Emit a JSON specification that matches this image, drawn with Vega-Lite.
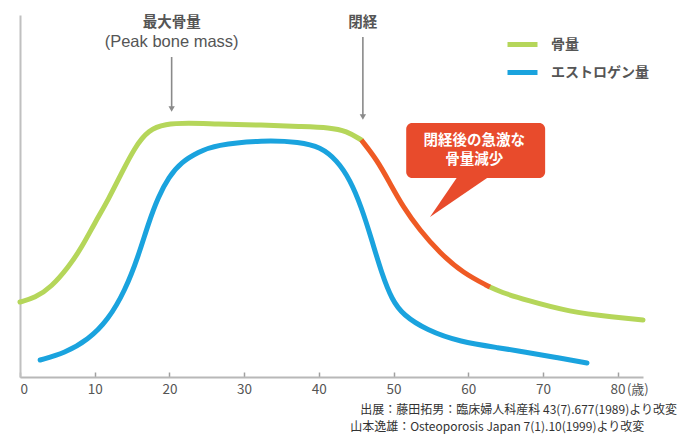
{
  "$schema": "https://vega.github.io/schema/vega-lite/v6.json",
  "width": 623,
  "height": 362,
  "autosize": {"type": "none"},
  "padding": {"left": 20, "top": 15, "right": 39, "bottom": 58},
  "background": "white",
  "config": {
    "view": {"stroke": null},
    "font": "Noto Sans CJK JP",
    "axisY": {"grid": false, "labels": false, "ticks": false, "domainColor": "#c0c0c0", "domainWidth": 2}
  },
  "datasets": {
    "curves": [
      {"series": "骨量", "seg": "bone1", "age": 0, "value": 75},
      {"series": "骨量", "seg": "bone1", "age": 2.0, "value": 79},
      {"series": "骨量", "seg": "bone1", "age": 4.2, "value": 90},
      {"series": "骨量", "seg": "bone1", "age": 6.5, "value": 110},
      {"series": "骨量", "seg": "bone1", "age": 8.3, "value": 130},
      {"series": "骨量", "seg": "bone1", "age": 10.0, "value": 154},
      {"series": "骨量", "seg": "bone1", "age": 11.8, "value": 177},
      {"series": "骨量", "seg": "bone1", "age": 13.6, "value": 204},
      {"series": "骨量", "seg": "bone1", "age": 15.4, "value": 230},
      {"series": "骨量", "seg": "bone1", "age": 17.2, "value": 247},
      {"series": "骨量", "seg": "bone1", "age": 19.4, "value": 253},
      {"series": "骨量", "seg": "bone1", "age": 22.5, "value": 254},
      {"series": "骨量", "seg": "bone1", "age": 26.1, "value": 253},
      {"series": "骨量", "seg": "bone1", "age": 32.5, "value": 252},
      {"series": "骨量", "seg": "bone1", "age": 37.5, "value": 250.5},
      {"series": "骨量", "seg": "bone1", "age": 41.5, "value": 249.5},
      {"series": "骨量", "seg": "bone1", "age": 43.7, "value": 246},
      {"series": "骨量", "seg": "bone1", "age": 45.7, "value": 237},
      {"series": "骨量", "seg": "decline", "age": 45.7, "value": 237},
      {"series": "骨量", "seg": "decline", "age": 47.8, "value": 217},
      {"series": "骨量", "seg": "decline", "age": 49.5, "value": 194},
      {"series": "骨量", "seg": "decline", "age": 51.3, "value": 170},
      {"series": "骨量", "seg": "decline", "age": 53.5, "value": 147},
      {"series": "骨量", "seg": "decline", "age": 56.2, "value": 124},
      {"series": "骨量", "seg": "decline", "age": 59.3, "value": 104},
      {"series": "骨量", "seg": "decline", "age": 62.9, "value": 90},
      {"series": "骨量", "seg": "bone3", "age": 62.9, "value": 90},
      {"series": "骨量", "seg": "bone3", "age": 64.3, "value": 85},
      {"series": "骨量", "seg": "bone3", "age": 67.7, "value": 77},
      {"series": "骨量", "seg": "bone3", "age": 73.6, "value": 65},
      {"series": "骨量", "seg": "bone3", "age": 79.5, "value": 60},
      {"series": "骨量", "seg": "bone3", "age": 83.4, "value": 57},
      {"series": "エストロゲン量", "seg": "estrogen", "age": 2.7, "value": 17},
      {"series": "エストロゲン量", "seg": "estrogen", "age": 6.0, "value": 24},
      {"series": "エストロゲン量", "seg": "estrogen", "age": 9.1, "value": 37},
      {"series": "エストロゲン量", "seg": "estrogen", "age": 11.8, "value": 57},
      {"series": "エストロゲン量", "seg": "estrogen", "age": 14.1, "value": 87},
      {"series": "エストロゲン量", "seg": "estrogen", "age": 15.8, "value": 120},
      {"series": "エストロゲン量", "seg": "estrogen", "age": 17.2, "value": 154},
      {"series": "エストロゲン量", "seg": "estrogen", "age": 18.5, "value": 180},
      {"series": "エストロゲン量", "seg": "estrogen", "age": 19.9, "value": 200},
      {"series": "エストロゲン量", "seg": "estrogen", "age": 21.6, "value": 215},
      {"series": "エストロゲン量", "seg": "estrogen", "age": 23.9, "value": 225},
      {"series": "エストロゲン量", "seg": "estrogen", "age": 26.1, "value": 232},
      {"series": "エストロゲン量", "seg": "estrogen", "age": 32.5, "value": 237},
      {"series": "エストロゲン量", "seg": "estrogen", "age": 37.5, "value": 235},
      {"series": "エストロゲン量", "seg": "estrogen", "age": 40.2, "value": 230},
      {"series": "エストロゲン量", "seg": "estrogen", "age": 42.4, "value": 217},
      {"series": "エストロゲン量", "seg": "estrogen", "age": 44.2, "value": 197},
      {"series": "エストロゲン量", "seg": "estrogen", "age": 45.7, "value": 170},
      {"series": "エストロゲン量", "seg": "estrogen", "age": 47.1, "value": 137},
      {"series": "エストロゲン量", "seg": "estrogen", "age": 48.4, "value": 104},
      {"series": "エストロゲン量", "seg": "estrogen", "age": 49.8, "value": 77},
      {"series": "エストロゲン量", "seg": "estrogen", "age": 51.3, "value": 62},
      {"series": "エストロゲン量", "seg": "estrogen", "age": 54.4, "value": 47},
      {"series": "エストロゲン量", "seg": "estrogen", "age": 58.9, "value": 35},
      {"series": "エストロゲン量", "seg": "estrogen", "age": 64.3, "value": 29},
      {"series": "エストロゲン量", "seg": "estrogen", "age": 67.6, "value": 25},
      {"series": "エストロゲン量", "seg": "estrogen", "age": 71.5, "value": 20},
      {"series": "エストロゲン量", "seg": "estrogen", "age": 75.9, "value": 14}
    ]
  },
  "layer": [
    {
      "data": {"name": "curves"},
      "transform": [{"filter": "datum.seg != 'decline'"}],
      "mark": {"type": "line", "interpolate": "basis", "strokeWidth": 5, "strokeCap": "round"},
      "encoding": {
        "x": {"field": "age", "type": "quantitative", "title": null, "scale": {"domain": [0, 83.4], "nice": false, "zero": false},
          "axis": {"values": [0,10,20,30,40,50,60,70,80], "grid": false, "domainColor": "#b8b8b8", "domainWidth": 2, "tickColor": "#a0a0a0", "tickSize": -5, "tickWidth": 1.5, "labelColor": "#555555", "labelFontSize": 13.5, "labelPadding": 10, "labelFont": "Noto Sans CJK JP"}},
        "y": {"field": "value", "type": "quantitative", "title": null, "scale": {"domain": [0, 362], "nice": false}},
        "color": {"field": "series", "type": "nominal", "scale": {"domain": ["骨量", "エストロゲン量"], "range": ["#b5d65a", "#1aa3de"]},
          "legend": {"title": null, "orient": "none", "legendX": 485, "legendY": 12, "symbolType": "stroke", "symbolSize": 900, "symbolStrokeWidth": 5, "labelFontSize": 14, "labelColor": "#555555", "labelFontWeight": "bold", "rowPadding": -6, "labelOffset": 11, "padding": 0}},
        "detail": {"field": "seg"}
      }
    },
    {
      "data": {"name": "curves"},
      "transform": [{"filter": "datum.seg == 'decline'"}],
      "mark": {"type": "line", "interpolate": "basis", "strokeWidth": 5, "strokeCap": "butt", "color": "#ef5a24"},
      "encoding": {
        "x": {"field": "age", "type": "quantitative"},
        "y": {"field": "value", "type": "quantitative"}
      }
    },
    {
      "data": {"values": [{}]},
      "mark": {"type": "rule", "color": "#8a8a8a", "strokeWidth": 1.6},
      "encoding": {"x": {"datum": 20.3}, "y": {"datum": 320}, "y2": {"datum": 268}}
    },
    {
      "data": {"values": [{}]},
      "mark": {"type": "rule", "color": "#8a8a8a", "strokeWidth": 1.6},
      "encoding": {"x": {"datum": 45.9}, "y": {"datum": 340}, "y2": {"datum": 260}}
    },
    {
      "data": {"values": [{}]},
      "mark": {"type": "point", "shape": "triangle-down", "filled": true, "size": 40, "color": "#8a8a8a", "opacity": 1},
      "encoding": {"x": {"datum": 20.3}, "y": {"datum": 268}}
    },
    {
      "data": {"values": [{}]},
      "mark": {"type": "point", "shape": "triangle-down", "filled": true, "size": 40, "color": "#8a8a8a", "opacity": 1},
      "encoding": {"x": {"datum": 45.9}, "y": {"datum": 260}}
    },
    {
      "data": {"values": [{}]},
      "mark": {"type": "text", "text": "最大骨量", "fontSize": 14.5, "fontWeight": "bold", "color": "#555555", "baseline": "middle"},
      "encoding": {"x": {"datum": 20.3}, "y": {"datum": 354}}
    },
    {
      "data": {"values": [{}]},
      "mark": {"type": "text", "text": "(Peak bone mass)", "font": "Liberation Sans", "fontSize": 16.5, "color": "#555555", "baseline": "middle"},
      "encoding": {"x": {"datum": 20.3}, "y": {"datum": 335}}
    },
    {
      "data": {"values": [{}]},
      "mark": {"type": "text", "text": "閉経", "fontSize": 14.5, "fontWeight": "bold", "color": "#555555", "baseline": "middle"},
      "encoding": {"x": {"datum": 45.9}, "y": {"datum": 354}}
    },
    {
      "data": {"values": [{}]},
      "mark": {"type": "rect", "color": "#e84b2c", "cornerRadius": 6},
      "encoding": {"x": {"datum": 51.7}, "x2": {"datum": 70.3}, "y": {"datum": 254}, "y2": {"datum": 199}}
    },
    {
      "data": {"values": [{}]},
      "mark": {"type": "point", "shape": "M-0.067,-0.7L1,-0.7L-1,0.667Z", "filled": true, "size": 3600, "color": "#e84b2c", "opacity": 1, "strokeWidth": 0},
      "encoding": {"x": {"datum": 58.9}, "y": {"datum": 180}}
    },
    {
      "data": {"values": [{}]},
      "mark": {"type": "text", "text": ["閉経後の急激な", "骨量減少"], "lineHeight": 19, "fontSize": 14.5, "fontWeight": "bold", "color": "white", "baseline": "middle"},
      "encoding": {"x": {"datum": 60.8}, "y": {"datum": 236}}
    },
    {
      "data": {"values": [{}]},
      "mark": {"type": "text", "text": "(歳)", "fontSize": 13, "color": "#555555", "baseline": "middle"},
      "encoding": {"x": {"datum": 82.7}, "y": {"datum": -13}}
    },
    {
      "data": {"values": [{}]},
      "mark": {"type": "text", "text": "出展：藤田拓男：臨床婦人科産科 43(7).677(1989)より改変", "fontSize": 12, "color": "#333333", "align": "right", "baseline": "middle"},
      "encoding": {"x": {"datum": 87.95}, "y": {"datum": -32.5}}
    },
    {
      "data": {"values": [{}]},
      "mark": {"type": "text", "text": "山本逸雄：Osteoporosis Japan 7(1).10(1999)より改変", "fontSize": 12, "color": "#333333", "align": "left", "baseline": "middle"},
      "encoding": {"x": {"datum": 44.2}, "y": {"datum": -49.5}}
    }
  ]
}
